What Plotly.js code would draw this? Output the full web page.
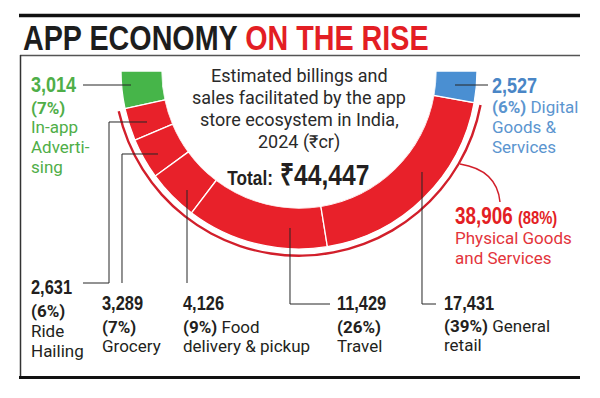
<!DOCTYPE html>
<html><head><meta charset="utf-8">
<script src="https://cdn.plot.ly/plotly-3.0.1.min.js"></script>
<style>html,body{margin:0;padding:0;background:#fff}#chart{width:600px;height:398px}</style>
</head><body><div id="chart"></div>
<script>
// ---- data ----
const categories = ['In-app Advertising','Ride Hailing','Grocery','Food delivery & pickup','Travel','General retail','Digital Goods & Services'];
const values = [3014, 2631, 3289, 4126, 11429, 17431, 2527];
const shares = [7, 6, 7, 9, 26, 39, 6];
const physicalIdx = [1, 2, 3, 4, 5];
const physicalShare = 88;
const segColors = ['#46b549', '#e8212a', '#e8212a', '#e8212a', '#e8212a', '#e8212a', '#4a8fd2'];

// ---- helpers ----
const W = 600, H = 398;
const fmt = v => v.toLocaleString('en-US');
const total = values.reduce((a, b) => a + b, 0);
const physicalTotal = physicalIdx.reduce((a, i) => a + values[i], 0);
const px = x => x / W, py = y => 1 - y / H;

// angular layout of the half ring (bottom half, 180deg -> 360deg)
let cum = 0; const thetas = [], widths = [];
values.forEach(v => { const w = v / total * 180; thetas.push(180 + cum + w / 2); widths.push(w); cum += w; });
const physStart = physicalIdx.reduce((a, i) => Math.min(a, thetas[i] - widths[i] / 2), 999);
const physEnd = physicalIdx.reduce((a, i) => Math.max(a, thetas[i] + widths[i] / 2), 0);

// geometry (pixels)
const cx = 299, cy = 71, Rin = 137, Rout = 178, Rp = 188;
const unit = Rout - Rin;
const rmax = (Rp - Rin) / unit;
const arcBase = (183.5 - Rin) / unit, arcThick = 2.4 / unit;

const ring = {
  type: 'barpolar', theta: thetas, width: widths, r: values.map(() => 1),
  marker: { color: segColors, line: { color: '#ffffff', width: 1.3 } },
  hoverinfo: 'skip', showlegend: false
};
const bracket = {
  type: 'barpolar', theta: [(physStart + physEnd) / 2], width: [physEnd - physStart - 0.8],
  r: [arcThick], base: [arcBase],
  marker: { color: '#d21f2b', line: { width: 0 } }, hoverinfo: 'skip', showlegend: false
};

const BODY = 'Roboto, sans-serif';
const NUM = '"Liberation Sans Narrow", "Liberation Sans", Arial, sans-serif';
const SQUEEZE = 0.82;
const condense = new Set();
const annotations = [];
function ann(text, x, y, size, color, opts = {}) {
  const a = Object.assign({
    text, x: px(x), y: py(y), xref: 'paper', yref: 'paper', showarrow: false,
    xanchor: 'left', yanchor: 'middle', align: 'left',
    font: { family: opts.family || BODY, size, color, weight: opts.weight || 400 }
  }, opts.extra || {});
  if (opts.narrow) condense.add(annotations.length);
  annotations.push(a);
}
const GREEN = '#4fae48', BLUE = '#4a86c6', BLUE2 = '#5b95cf', RED = '#e31e24', RED2 = '#e3343b', INK = '#231f20';
const C = { xanchor: 'center', align: 'center' };
const NB = { family: NUM, weight: 700, narrow: true };

// title
ann('APP ECONOMY <span style="color:#e31e24">ON THE RISE</span>', 21, 37, 35, '#1d1d1d', NB);
// centre text
ann('Estimated billings and', cx, 75, 18, '#2a2a2a', { extra: C });
ann('sales facilitated by the app', cx, 97.5, 18, '#2a2a2a', { extra: C });
ann('store ecosystem in India,', cx, 120, 18, '#2a2a2a', { extra: C });
ann('2024 (₹cr)', cx, 142, 18, '#2a2a2a', { extra: C });
ann('<span style="font-size:21px">Total:</span> ₹' + fmt(total), 298, 174, 30, INK, Object.assign({ extra: C }, NB));
// in-app advertising
ann(fmt(values[0]), 29, 85, 22, GREEN, NB);
ann('<b>(' + shares[0] + '%)</b>', 29, 108, 17, GREEN);
ann('In-app', 29, 127, 17, GREEN);
ann('Adverti-', 29, 147, 17, GREEN);
ann('sing', 29, 167, 17, GREEN);
// digital
ann(fmt(values[6]), 490, 86, 22, BLUE, NB);
ann('<b>(' + shares[6] + '%)</b> Digital', 490, 107, 17, BLUE2);
ann('Goods &amp;', 490, 127, 17, BLUE2);
ann('Services', 490, 147, 17, BLUE2);
// physical
ann(fmt(physicalTotal) + ' <span style="font-size:18px">(' + physicalShare + '%)</span>', 453, 216, 23, RED, NB);
ann('Physical Goods', 453, 238, 17, RED2);
ann('and Services', 453, 258, 17, RED2);
// ride hailing
ann(fmt(values[1]), 29, 287, 20, INK, NB);
ann('<b>(' + shares[1] + '%)</b>', 29, 311, 17, INK);
ann('Ride', 29, 331, 17, INK);
ann('Hailing', 29, 351, 17, INK);
// grocery
ann(fmt(values[2]), 100, 303, 20, INK, NB);
ann('<b>(' + shares[2] + '%)</b>', 100, 327, 17, INK);
ann('Grocery', 100, 346, 17, INK);
// food
ann(fmt(values[3]), 181, 303, 20, INK, NB);
ann('<b>(' + shares[3] + '%)</b> Food', 181, 327, 17, INK);
ann('delivery &amp; pickup', 181, 346, 17, INK);
// travel
ann(fmt(values[4]), 335, 303, 20, INK, NB);
ann('<b>(' + shares[4] + '%)</b>', 335, 327, 17, INK);
ann('Travel', 335, 346, 17, INK);
// retail
ann(fmt(values[5]), 442, 303, 20, INK, NB);
ann('<b>(' + shares[5] + '%)</b> General', 442, 326, 17, INK);
ann('retail', 442, 345, 17, INK);

function line(x0, y0, x1, y1, color, width) {
  return { type: 'line', xref: 'paper', yref: 'paper', x0: px(x0), y0: py(y0), x1: px(x1), y1: py(y1), line: { color, width }, layer: 'above' };
}
function path(pts, color, width) {
  const d = pts.map((p, i) => (i ? 'L' : 'M') + px(p[0]).toFixed(5) + ',' + py(p[1]).toFixed(5)).join(' ');
  return { type: 'path', xref: 'paper', yref: 'paper', path: d, line: { color, width }, layer: 'above' };
}
const LK = '#262626';
const shapes = [
  line(19, 15.5, 580, 15.5, '#111', 3.5),
  line(20, 55.5, 580, 55.5, '#555', 1.5),
  line(20.5, 55, 20.5, 377, '#333', 1.5),
  line(19, 377.5, 580, 377.5, '#111', 3),
  line(83, 85, 131, 85, LK, 1),
  line(455, 85, 488, 85, LK, 1),
  path([[83, 283], [109, 283], [109, 122], [147, 122]], LK, 1),
  path([[122, 283], [122, 154], [158, 154]], LK, 1),
  line(187, 283, 187, 190, LK, 1),
  path([[290, 228], [290, 304], [330, 304]], LK, 1),
  path([[422, 172], [422, 304], [436, 304]], LK, 1),
  { type: 'path', xref: 'paper', yref: 'paper', layer: 'above',
    path: 'M' + px(460) + ',' + py(164) + ' Q' + px(497) + ',' + py(170) + ' ' + px(500) + ',' + py(202),
    line: { color: '#d21f2b', width: 1.5 } }
];

const layout = {
  width: W, height: H, margin: { l: 0, r: 0, t: 0, b: 0 },
  paper_bgcolor: '#fff', plot_bgcolor: '#fff', showlegend: false,
  font: { family: BODY },
  polar: {
    domain: { x: [px(cx - Rp), px(cx + Rp)], y: [py(cy + Rp), py(cy)] },
    sector: [180, 360], hole: Rin / Rp, bgcolor: 'rgba(0,0,0,0)',
    radialaxis: { visible: false, range: [0, rmax] },
    angularaxis: { visible: false, direction: 'counterclockwise', rotation: 0 }
  },
  bargap: 0,
  annotations, shapes
};
Plotly.newPlot('chart', [ring, bracket], layout, { displayModeBar: false, staticPlot: true }).then(gd => {
  // emulate a condensed (narrow) bold face: scale the text horizontally about its anchor point
  gd.querySelectorAll('.annotation').forEach(g => {
    const i = +g.getAttribute('data-index');
    if (!condense.has(i)) return;
    const t = g.querySelector('text.annotation-text');
    if (!t) return;
    const x0 = parseFloat(t.getAttribute('x')) || 0;
    const prev = t.getAttribute('transform') || '';
    t.setAttribute('transform', (prev + ' translate(' + x0 + ',0) scale(' + SQUEEZE + ',1) translate(' + (-x0) + ',0)').trim());
  });
});
</script></body></html>
